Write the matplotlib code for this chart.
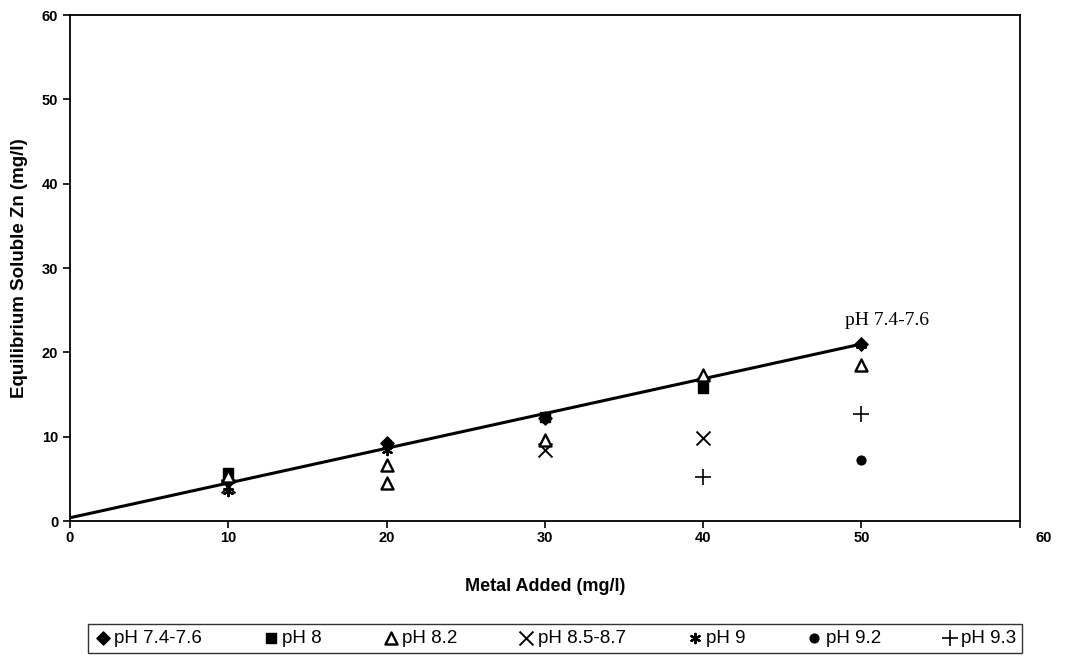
import matplotlib.pyplot as plt
import matplotlib.transforms as mtransforms

plt.rcParams['font.family'] = ['Liberation Sans', 'DejaVu Sans']

# equilibrium soluble Zn (mg/l) vs metal added (mg/l), one list pair per pH group
ph74_x = [10, 20, 30, 40, 50]
ph74_y = [4.7, 9.3, 12.2, 16.8, 21.0]
ph8_x = [10, 30, 40]
ph8_y = [5.7, 12.3, 15.8]
ph82_x = [10, 20, 20, 30, 40, 50]
ph82_y = [5.3, 6.6, 4.5, 9.6, 17.3, 18.5]
ph85_x = [10, 30, 40]
ph85_y = [4.2, 8.4, 9.9]
ph9_x = [10, 20, 30, 50]
ph9_y = [3.6, 8.4, 12.2, 20.9]
ph92_x = [50]
ph92_y = [7.2]
ph93_x = [40, 50]
ph93_y = [5.2, 12.7]

# linear trend through the pH 7.4-7.6 group
trend_x = [0, 50]
trend_slope = 0.412
trend_intercept = 0.4

fig = plt.figure(figsize=(10.7, 6.58), dpi=100)
ax = fig.add_axes([0.0654, 0.208, 0.8876, 0.769])

ax.plot(trend_x, [trend_intercept + trend_slope * x for x in trend_x],
        color='black', lw=2.2, zorder=2)

ax.scatter(ph74_x, ph74_y, marker='D', s=45, color='black', label='pH 7.4-7.6', zorder=3)
ax.scatter(ph8_x, ph8_y, marker='s', s=60, color='black', label='pH 8', zorder=3)
ax.scatter(ph82_x, ph82_y, marker='^', s=75, facecolor='white', edgecolor='black',
           linewidth=1.7, label='pH 8.2', zorder=4)
ax.scatter(ph85_x, ph85_y, marker='x', s=100, color='black', linewidth=1.4,
           label='pH 8.5-8.7', zorder=3)
ax.scatter(ph9_x, ph9_y, marker=(6, 2, 0), s=45, color='black', linewidth=1.6,
           label='pH 9', zorder=3)
ax.scatter(ph92_x, ph92_y, marker='o', s=40, color='black', label='pH 9.2', zorder=3)
ax.scatter(ph93_x, ph93_y, marker='+', s=120, color='black', linewidth=1.2,
           label='pH 9.3', zorder=3)

ax.text(51.6, 23.8, 'pH 7.4-7.6', family='Liberation Serif', fontsize=14,
        ha='center', va='center')

ax.set_xlim(0, 60)
ax.set_ylim(0, 60)
ax.set_xticks(range(0, 61, 10))
ax.set_yticks(range(0, 61, 10))
ax.tick_params(direction='out', length=5, width=1.2, labelsize=10.5)
ax.tick_params(axis='x', pad=2)
for lbl in ax.get_xticklabels() + ax.get_yticklabels():
    lbl.set_fontweight('bold')
# last x label sits a little to the right of its tick
last = ax.get_xticklabels()[-1]
last.set_transform(last.get_transform() + mtransforms.ScaledTranslation(0.24, 0, fig.dpi_scale_trans))
for s in ax.spines.values():
    s.set_linewidth(1.3)

ax.set_xlabel('Metal Added (mg/l)', fontsize=13, fontweight='bold', labelpad=24)
ax.set_ylabel('Equilibrium Soluble Zn (mg/l)', fontsize=13.5, fontweight='bold', labelpad=10)

fig.legend(loc='lower left', bbox_to_anchor=(0.082, 0.008, 0.873, 0.045), mode='expand',
           ncol=7, fontsize=13.5, frameon=True, fancybox=False, edgecolor='black',
           handletextpad=0.1, borderpad=0.3, borderaxespad=0, scatterpoints=1,
           handlelength=1.0)

fig.savefig('out.png', dpi=100)
